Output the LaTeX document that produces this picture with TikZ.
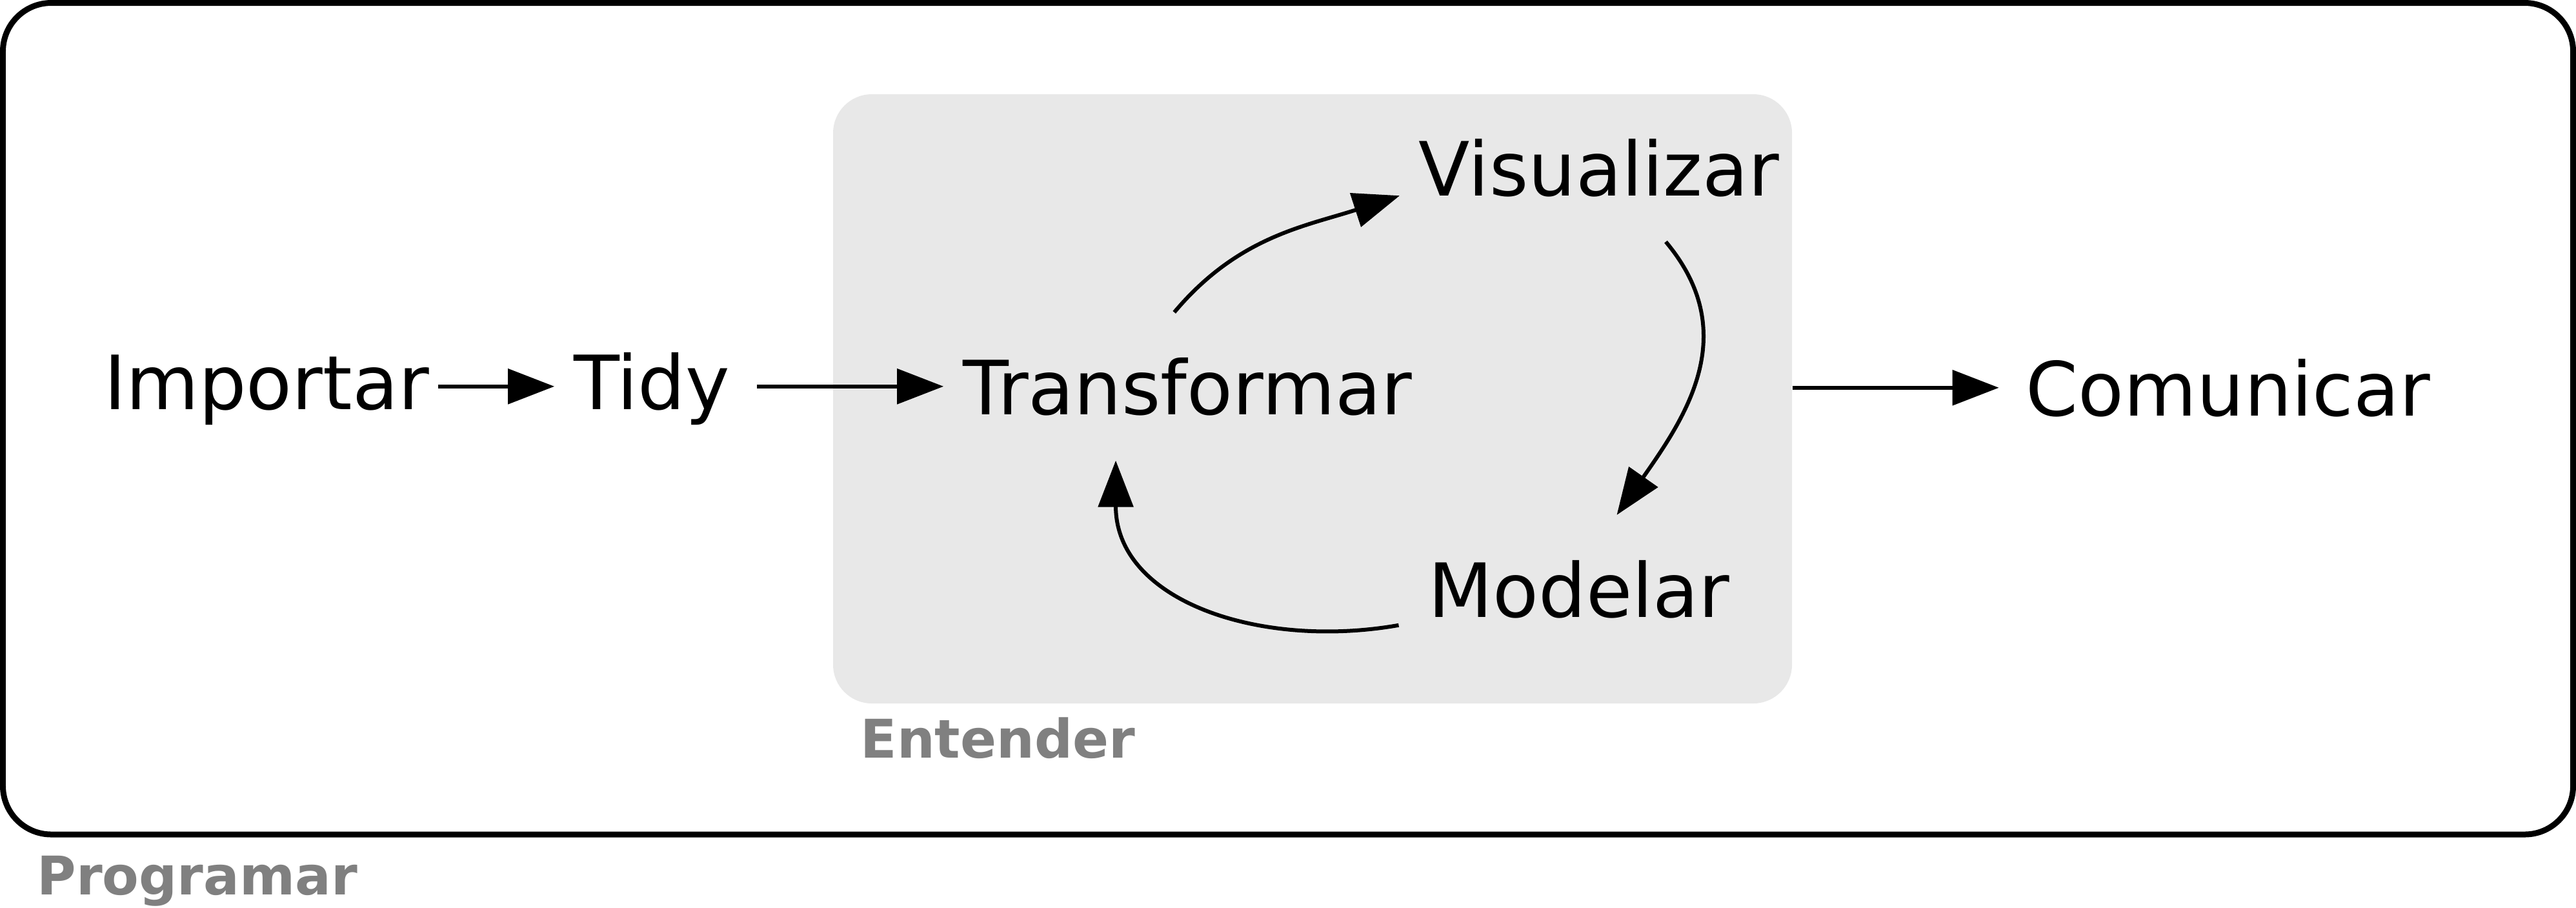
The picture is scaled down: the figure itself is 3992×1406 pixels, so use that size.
\documentclass[tikz,border=0pt]{standalone}
\usepackage{fontspec}
\setmainfont{DejaVu Sans}
\usetikzlibrary{arrows.meta}
\definecolor{labelgray}{HTML}{808080}
\definecolor{boxgray}{HTML}{E8E8E8}

\begin{document}
\begin{tikzpicture}[x=0.1mm,y=-0.1mm,
		word/.style={anchor=base,inner xsep=3mm,inner ysep=7mm,outer sep=0pt,font=\fontsize{33}{40}\selectfont},
		tag/.style={anchor=base west,inner sep=0pt,text=labelgray,font=\fontsize{23.5}{28}\selectfont\bfseries},
		link/.style={line width=0.6mm,-{Triangle[length=7.2mm,width=5.4mm]}}]
				\useasboundingbox (0,0) rectangle (3992,1406);
				\draw[line width=0.9mm,rounded corners=7.5mm] (4.5,4.5) rectangle (3987.5,1293);
				\node[tag] (programar) at (57,1386) {Programar};
				\node[fill=boxgray,rounded corners=6mm,minimum width=148.6mm,minimum height=94.4mm,inner sep=0pt] (entender) at (2034,618) {};
				\node[tag] (entlabel) at (1333,1174) {Entender};
				\node[word] (importar) at (413,634) {Importar};
				\node[word] (tidy) at (1010,634) {Tidy};
				\node[word] (transformar) at (1840,642) {Transformar};
				\node[word] (visualizar) at (2478,303) {Visualizar};
				\node[word] (modelar) at (2447,956) {Modelar};
				\node[word] (comunicar) at (3453,644) {Comunicar};
				\draw[link] ([xshift=-1.6mm]importar.east |- transformar) -- (tidy.west |- transformar);
				\draw[link] ([xshift=1.2mm]tidy.east |- transformar) -- (transformar);
				\draw[link] (transformar.100) to[out=50,in=198] (visualizar.188);
				\draw[link] (visualizar.-48) to[out=-50,in=55,looseness=1.1] (modelar.63);
				\draw[link] ([xshift=-1.6mm]modelar.192) to[out=190,in=-90,looseness=1.1] (transformar.226);
				\draw[link] (entender.east |- comunicar) -- ([xshift=-1.2mm]comunicar.west);
		\end{tikzpicture}
\end{document}
